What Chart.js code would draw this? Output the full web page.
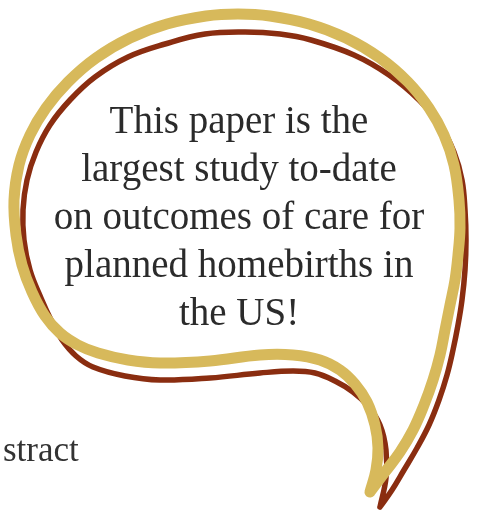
<!DOCTYPE html>
<html>
<head>
<meta charset="utf-8">
<script src="https://cdn.jsdelivr.net/npm/chart.js@4"></script>
<style>
  body { margin: 0; background: #fff; }
  #wrap { position: relative; width: 478px; height: 512px; overflow: hidden; }
  #bubble { position: absolute; left: 0; top: 0; }
  .quote {
    position: absolute; left: 0; top: 96px; width: 478px; text-align: center;
    font-family: "Liberation Serif", serif; font-size: 39px; line-height: 48px; color: #2b2b2b;
  }
  .side {
    position: absolute; left: 3px; top: 432px;
    font-family: "Liberation Serif", serif; font-size: 35px; line-height: 35px; color: #333;
  }
</style>
</head>
<body>
<div id="wrap">
  <canvas id="bubble" width="478" height="512"></canvas>
  <div class="quote">This paper is the<br>largest study to-date<br>on outcomes of care for<br>planned homebirths in<br>the US!</div>
  <div class="side">stract</div>
</div>
<script>
// bubble outlines: tip -> right side -> top -> left side -> bottom -> back to tip
const goldX = [370, 385, 400, 413, 424, 433, 440, 445, 450, 455, 458, 460, 459, 454, 444, 429, 408, 380, 346, 309, 270, 238, 206, 167, 130, 96, 68, 46, 30, 19, 14, 16, 22, 32, 45, 60, 78, 98, 128, 160, 210, 260, 293, 320, 340, 355, 367, 375, 378, 376, 370];
const goldY = [492, 472, 452, 430, 405, 380, 355, 330, 305, 280, 255, 228, 200, 165, 135, 108, 82, 58, 38, 24, 16, 14, 16, 24, 38, 58, 82, 108, 135, 165, 200, 235, 265, 292, 316, 333, 345, 353, 360, 363, 361, 355, 355, 360, 370, 384, 402, 425, 448, 470, 492];

const redX = [380, 392, 404, 417, 429, 439, 447, 453, 458, 462, 465, 466, 465, 462, 454, 440, 419, 389, 354, 311, 280, 245, 205, 165, 128, 95, 70, 50, 36, 27, 23, 24, 30, 41, 52, 62, 76, 93, 125, 160, 210, 260, 293, 315, 335, 353, 368, 380, 386, 386, 380];
const redY = [507, 490, 470, 448, 425, 400, 375, 350, 325, 300, 270, 240, 210, 180, 152, 125, 100, 75, 55, 40, 34, 32, 34, 44, 57, 77, 100, 125, 152, 180, 210, 240, 270, 298, 322, 340, 356, 367, 376, 380, 378, 373, 371, 373, 381, 392, 406, 425, 450, 478, 507];

function toPoints(xs, ys) {
  return xs.map((x, i) => ({ x: x, y: ys[i] }));
}

new Chart(document.getElementById('bubble').getContext('2d'), {
  type: 'scatter',
  data: {
    datasets: [
      {
        label: 'gold',
        data: toPoints(goldX, goldY),
        showLine: true,
        borderColor: '#d7b95b',
        borderWidth: 11,
        borderCapStyle: 'round',
        borderJoinStyle: 'round',
        tension: 0.4,
        pointRadius: 0,
        clip: false
      },
      {
        label: 'red',
        data: toPoints(redX, redY),
        showLine: true,
        borderColor: '#8a2d10',
        borderWidth: 5.5,
        borderCapStyle: 'round',
        borderJoinStyle: 'round',
        tension: 0.4,
        pointRadius: 0,
        clip: false
      }
    ]
  },
  options: {
    responsive: false,
    animation: false,
    layout: { padding: 0 },
    plugins: { legend: { display: false }, tooltip: { enabled: false } },
    scales: {
      x: { type: 'linear', min: 0, max: 478, display: false },
      y: { type: 'linear', min: 0, max: 512, reverse: true, display: false }
    }
  }
});
</script>
</body>
</html>
